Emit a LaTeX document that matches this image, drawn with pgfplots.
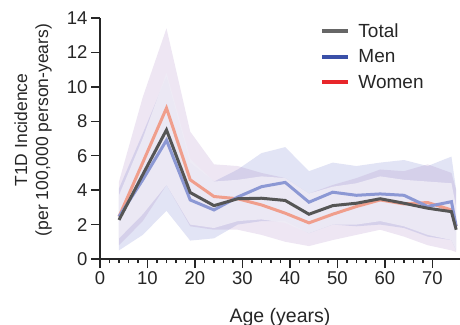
\documentclass[border=0pt]{standalone}
\usepackage{pgfplots}
\pgfplotsset{compat=1.18}
\usepackage{pgfplotstable}
\usepackage{fontspec}
\setmainfont{Liberation Sans}
\usepgfplotslibrary{fillbetween}
\definecolor{totline}{RGB}{85,85,85}
\definecolor{menline}{RGB}{140,152,212}
\definecolor{womline}{RGB}{240,158,140}
\definecolor{totleg}{RGB}{102,102,102}
\definecolor{menleg}{RGB}{58,80,168}
\definecolor{womleg}{RGB}{232,38,42}
\definecolor{menband}{RGB}{60,75,185}
\definecolor{womband}{RGB}{140,90,175}
\definecolor{totband}{RGB}{238,236,246}
\pgfplotstableread{
age  tot  totlo totup men  menlo menup wom  womlo womup
4    2.27 1.2   3.7   2.46 0.5   4.1   2.46 0.8   4.5
9    4.9  2.6   7.0   4.6  1.4   7.3   5.6  2.2   9.4
14   7.5  4.3   10.8  6.9  2.8   10.6  8.77 4.3   13.4
19   3.86 2.0   5.8   3.43 1.07  5.6   4.6  1.9   7.4
24   3.1  1.8   4.5   2.85 1.2   4.5   3.63 1.7   5.5
29   3.5  2.2   4.6   3.6  2.0   5.2   3.5  1.7   5.4
34   3.53 2.3   4.8   4.2  2.2   6.15  3.14 1.4   5.0
39   3.4  2.1   4.7   4.45 2.2   6.5   2.66 1.0   4.7
44   2.6  1.5   3.8   3.3  1.5   5.1   2.1  0.75  3.8
49   3.1  2.0   4.2   3.88 2.0   5.6   2.6  1.1   4.3
54   3.24 2.0   4.4   3.7  1.9   5.4   3.05 1.4   4.7
59   3.5  2.2   4.8   3.78 2.0   5.6   3.43 1.7   5.2
64   3.24 1.9   4.6   3.7  1.8   5.75  3.2  1.3   5.1
69   2.95 1.4   4.5   3.05 1.3   5.4   3.28 0.8   5.5
74   2.75 1.1   4.4   3.33 1.1   5.95  2.85 0.5   5.0
75   1.7  0.5   3.0   1.9  0.5   4.0   1.9  0.4   4.0
}\data
\begin{document}
\begin{tikzpicture}
\begin{axis}[
  scale only axis, width=360bp, height=241bp,
  xmin=0, xmax=75.8, ymin=0, ymax=14,
  axis lines*=left,
  axis line style={line width=1.8bp, black!85},
  tick style={line width=1.5bp, black!85},
  tick align=outside,
  major tick length=9bp, minor tick length=4bp,
  xtick={0,10,...,70}, minor x tick num=4,
  ytick={0,2,...,14},
  /pgf/number format/assume math mode=true,
  font=\fontsize{17.5bp}{21bp}\selectfont,
  ticklabel style={font=\fontsize{18.5bp}{20bp}\selectfont, text=black!85},
  xlabel={Age (years)},
  ylabel={T1D Incidence\\(per 100,000 person-years)},
  every axis x label/.style={at={(axis description cs:0.5,-0.242)}, anchor=center, text=black!85, font=\fontsize{19.5bp}{21bp}\selectfont},
  every axis y label/.style={at={(axis description cs:-0.186,0.535)}, rotate=90, anchor=center, align=center, text=black!85},
  legend style={at={(axis description cs:0.603,0.995)}, anchor=north west, draw=none, fill=none, row sep=7bp, font=\fontsize{19bp}{21bp}\selectfont, text=black!85},
  legend cell align=left,
  legend image code/.code={\draw[#1, line width=4bp] (0bp,0bp) -- (26bp,0bp); \path (34bp,0bp);},
  clip=false,
]
\addlegendimage{totleg}
\addlegendentry{Total}
\addlegendimage{menleg}
\addlegendentry{Men}
\addlegendimage{womleg}
\addlegendentry{Women}

\addplot[name path=mu, draw=none, forget plot] table[x=age, y=menup] {\data};
\addplot[name path=ml, draw=none, forget plot] table[x=age, y=menlo] {\data};
\addplot[menband, fill opacity=0.15, forget plot] fill between[of=mu and ml];
\addplot[name path=wu, draw=none, forget plot] table[x=age, y=womup] {\data};
\addplot[name path=wl, draw=none, forget plot] table[x=age, y=womlo] {\data};
\addplot[womband, fill opacity=0.15, forget plot] fill between[of=wu and wl];
\addplot[name path=tu, draw=none, forget plot] table[x=age, y=totup] {\data};
\addplot[name path=tl, draw=none, forget plot] table[x=age, y=totlo] {\data};
\addplot[totband, fill opacity=0.85, forget plot] fill between[of=tu and tl];

\addplot[womline, line width=3bp, forget plot] table[x=age, y=wom] {\data};
\addplot[menline, line width=3bp, forget plot] table[x=age, y=men] {\data};
\addplot[totline, line width=3bp, forget plot] table[x=age, y=tot] {\data};
\end{axis}
\pgfresetboundingbox
\path[use as bounding box] (-100bp,-66bp) rectangle (360bp,259bp);
\end{tikzpicture}
\end{document}
